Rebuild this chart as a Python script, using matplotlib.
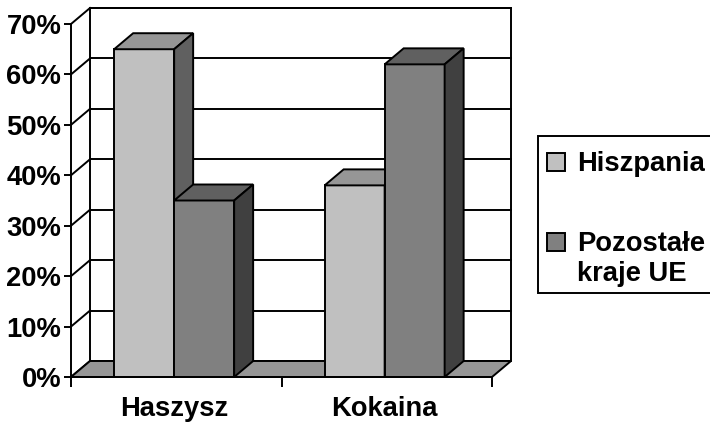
import matplotlib
matplotlib.use('Agg')
import matplotlib.pyplot as plt
from matplotlib.patches import Polygon, Rectangle

categories = ['Haszysz', 'Kokaina']
series_names = ['Hiszpania', 'Pozostałe\nkraje UE']
hiszpania = [65, 38]
pozostale = [35, 62]
y_ticks = [0, 10, 20, 30, 40, 50, 60, 70]

front_colors = ['#c0c0c0', '#808080']
top_colors = ['#969696', '#606060']
side_colors = ['#606060', '#404040']

plt.rcParams['font.family'] = ['Liberation Sans', 'DejaVu Sans']
plt.rcParams['font.weight'] = 'bold'
FS = 19.7
LW = 1.4

W, H = 710, 423
fig = plt.figure(figsize=(W / 100, H / 100), dpi=100)
ax = fig.add_axes([71 / W, 46 / H, 421 / W, 353 / H])
ax.set_xlim(0, 2)
ax.set_ylim(0, 70)
ax.patch.set_visible(False)

# depth of the 3d box, in data units
DX = 2 * 19 / 421
DY = 70 * 16 / 353

# back wall, grid, side wall
ax.add_patch(Rectangle((DX, DY), 2, 70, fc='white', ec='black', lw=LW, zorder=0.5, clip_on=False))
for v in y_ticks[1:]:
    ax.plot([DX, 2 + DX], [v + DY, v + DY], color='black', lw=LW, zorder=0.6, clip_on=False)
for v in y_ticks:
    ax.plot([0, DX], [v, v + DY], color='black', lw=LW, zorder=0.6, clip_on=False)

# floor
ax.add_patch(Polygon([(0, 0), (2, 0), (2 + DX, DY), (DX, DY)], closed=True,
                     fc='#969696', ec='black', lw=LW, zorder=1, clip_on=False))

# bars
width = 0.285
series = [hiszpania, pozostale]
z = 2
for i in range(len(categories)):
    for s, vals in enumerate(series):
        h = vals[i]
        x0 = i + 0.49 - width + s * width
        x1 = x0 + width
        ax.add_patch(Rectangle((x0, 0), width, h, fc=front_colors[s], ec='black', lw=LW,
                               zorder=z, clip_on=False))
        ax.add_patch(Polygon([(x0, h), (x1, h), (x1 + DX, h + DY), (x0 + DX, h + DY)], closed=True,
                             fc=top_colors[s], ec='black', lw=LW, zorder=z, clip_on=False))
        ax.add_patch(Polygon([(x1, 0), (x1 + DX, DY), (x1 + DX, h + DY), (x1, h)], closed=True,
                             fc=side_colors[s], ec='black', lw=LW, zorder=z, clip_on=False))
        z += 1

# axes
for side in ['top', 'right']:
    ax.spines[side].set_visible(False)
for side in ['left', 'bottom']:
    ax.spines[side].set_linewidth(LW)
    ax.spines[side].set_zorder(10)
ax.set_yticks(y_ticks)
ax.set_yticklabels([f'{v}%' for v in y_ticks], fontsize=FS, fontweight='bold')
ax.tick_params(axis='y', length=5, width=LW, pad=2)
ax.set_xticks([0, 1, 2])
ax.set_xticklabels(['', '', ''])
ax.tick_params(axis='x', which='major', length=7, width=LW)
ax.set_xticks([i + 0.49 for i in range(len(categories))], minor=True)
ax.set_xticklabels(categories, minor=True, fontsize=FS, fontweight='bold')
ax.tick_params(axis='x', which='minor', length=0, pad=14)


# legend drawn by hand so the swatch sits on the first line of a two-line label
def fx(px):
    return px / W


def fy(py):
    return 1 - py / H


fig.patches.append(Rectangle((fx(538), fy(293)), fx(200), (293 - 136) / H, fc='white', ec='black',
                             lw=LW, transform=fig.transFigure, figure=fig))
legend_rows = [171, 251]
for s, name in enumerate(series_names):
    base = legend_rows[s]
    fig.patches.append(Rectangle((fx(547), fy(base)), fx(18), 18 / H, fc=front_colors[s], ec='black',
                                 lw=LW, transform=fig.transFigure, figure=fig))
    for k, line in enumerate(name.split('\n')):
        fig.text(fx(577), fy(base + 30 * k), line, fontsize=FS, fontweight='bold',
                 ha='left', va='baseline')

fig.savefig('out.png', dpi=100)
